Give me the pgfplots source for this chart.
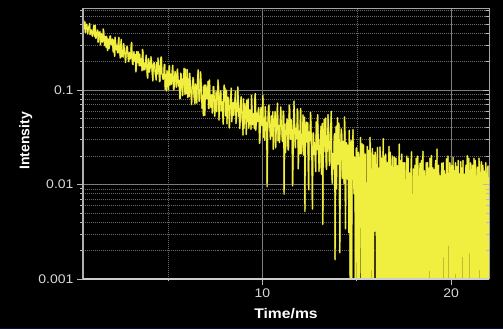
\documentclass[border=0pt]{standalone}
\usepackage{pgfplots}
\usepackage{pgfplotstable}
\pgfplotsset{compat=1.18}
\usepackage{fontspec}
\setmainfont{Liberation Sans}
\newfontfamily\sfx{Liberation Sans}[FakeStretch=1.12]
\definecolor{dyellow}{RGB}{240,238,62}
\definecolor{dolive}{RGB}{105,100,28}
\definecolor{gridc}{RGB}{105,105,105}
\definecolor{gridm}{RGB}{125,125,125}
\definecolor{axisc}{RGB}{185,185,185}
\definecolor{tickl}{RGB}{215,215,215}
\definecolor{navyb}{RGB}{12,16,48}

\pgfplotstableread{
x y
0.500 0.500
0.525 0.554
0.550 0.445
0.575 0.455
0.600 0.528
0.625 0.405
0.650 0.457
0.675 0.488
0.700 0.498
0.725 0.451
0.750 0.393
0.775 0.436
0.800 0.466
0.825 0.475
0.850 0.507
0.875 0.388
0.900 0.408
0.925 0.435
0.950 0.428
0.975 0.387
1.000 0.372
1.025 0.405
1.050 0.442
1.075 0.486
1.100 0.393
1.125 0.370
1.150 0.487
1.175 0.354
1.200 0.359
1.225 0.408
1.250 0.396
1.275 0.432
1.300 0.321
1.325 0.352
1.350 0.409
1.375 0.385
1.400 0.415
1.425 0.302
1.450 0.350
1.475 0.397
1.500 0.385
1.525 0.322
1.550 0.334
1.575 0.443
1.600 0.410
1.625 0.331
1.650 0.296
1.675 0.370
1.700 0.339
1.725 0.283
1.750 0.371
1.775 0.310
1.800 0.262
1.825 0.347
1.850 0.340
1.875 0.274
1.900 0.295
1.925 0.369
1.950 0.375
1.975 0.313
2.000 0.302
2.025 0.332
2.050 0.347
2.075 0.292
2.100 0.253
2.125 0.340
2.150 0.317
2.175 0.227
2.200 0.364
2.225 0.323
2.250 0.268
2.275 0.295
2.300 0.297
2.325 0.250
2.350 0.248
2.375 0.333
2.400 0.362
2.425 0.259
2.450 0.247
2.475 0.219
2.500 0.301
2.525 0.343
2.550 0.225
2.575 0.239
2.600 0.266
2.625 0.224
2.650 0.310
2.675 0.291
2.700 0.242
2.725 0.247
2.750 0.196
2.775 0.224
2.800 0.274
2.825 0.291
2.850 0.285
2.875 0.240
2.900 0.213
2.925 0.200
2.950 0.245
2.975 0.250
3.000 0.214
3.025 0.219
3.050 0.294
3.075 0.320
3.100 0.225
3.125 0.190
3.150 0.186
3.175 0.242
3.200 0.255
3.225 0.202
3.250 0.234
3.275 0.239
3.300 0.156
3.325 0.170
3.350 0.256
3.375 0.216
3.400 0.196
3.425 0.255
3.450 0.228
3.475 0.181
3.500 0.240
3.525 0.204
3.550 0.182
3.575 0.215
3.600 0.210
3.625 0.160
3.650 0.270
3.675 0.253
3.700 0.164
3.725 0.179
3.750 0.193
3.775 0.164
3.800 0.179
3.825 0.211
3.850 0.234
3.875 0.178
3.900 0.144
3.925 0.134
3.950 0.197
3.975 0.215
4.000 0.155
4.025 0.157
4.050 0.197
4.075 0.171
4.100 0.225
4.125 0.206
4.150 0.165
4.175 0.144
4.200 0.125
4.225 0.185
4.250 0.193
4.275 0.195
4.300 0.173
4.325 0.150
4.350 0.140
4.375 0.128
4.400 0.196
4.425 0.170
4.450 0.148
4.475 0.219
4.500 0.170
4.525 0.181
4.550 0.123
4.575 0.125
4.600 0.181
4.625 0.221
4.650 0.224
4.675 0.150
4.700 0.146
4.725 0.133
4.750 0.130
4.775 0.139
4.800 0.185
4.825 0.187
4.850 0.102
4.875 0.124
4.900 0.147
4.925 0.0980
4.950 0.160
4.975 0.146
5.000 0.133
5.025 0.101
5.050 0.172
5.075 0.181
5.100 0.113
5.125 0.129
5.150 0.148
5.175 0.115
5.200 0.120
5.225 0.157
5.250 0.183
5.275 0.139
5.300 0.100
5.325 0.105
5.350 0.136
5.375 0.157
5.400 0.150
5.425 0.116
5.450 0.107
5.475 0.140
5.500 0.167
5.525 0.142
5.550 0.114
5.575 0.109
5.600 0.127
5.625 0.0819
5.650 0.0815
5.675 0.151
5.700 0.145
5.725 0.121
5.750 0.103
5.775 0.0874
5.800 0.131
5.825 0.125
5.850 0.170
5.875 0.110
5.900 0.0899
5.925 0.167
5.950 0.110
5.975 0.0917
6.000 0.116
6.025 0.165
6.050 0.0833
6.075 0.100
6.100 0.131
6.125 0.0855
6.150 0.151
6.175 0.126
6.200 0.0955
6.225 0.0909
6.250 0.0702
6.275 0.100
6.300 0.113
6.325 0.136
6.350 0.129
6.375 0.0841
6.400 0.0854
6.425 0.0716
6.450 0.116
6.475 0.110
6.500 0.0861
6.525 0.0728
6.550 0.110
6.575 0.141
6.600 0.164
6.625 0.101
6.650 0.0760
6.675 0.0792
6.700 0.0947
6.725 0.156
6.750 0.126
6.775 0.107
6.800 0.0641
6.825 0.0821
6.850 0.0875
6.875 0.0537
6.900 0.109
6.925 0.113
6.950 0.0540
6.975 0.0890
7.000 0.113
7.025 0.104
7.050 0.0815
7.075 0.0810
7.100 0.100
7.125 0.124
7.150 0.0642
7.175 0.0638
7.200 0.128
7.225 0.0825
7.250 0.0709
7.275 0.0655
7.300 0.0892
7.325 0.0887
7.350 0.0571
7.375 0.0706
7.400 0.109
7.425 0.108
7.450 0.0822
7.475 0.0529
7.500 0.0632
7.525 0.0713
7.550 0.0963
7.575 0.0592
7.600 0.0759
7.625 0.0878
7.650 0.128
7.675 0.107
7.700 0.0483
7.725 0.0603
7.750 0.0835
7.775 0.0942
7.800 0.0984
7.825 0.0605
7.850 0.0649
7.875 0.0752
7.900 0.0524
7.925 0.0436
7.950 0.0906
7.975 0.113
8.000 0.0769
8.025 0.105
8.050 0.0534
8.075 0.0703
8.100 0.0997
8.125 0.0441
8.150 0.0626
8.175 0.0843
8.200 0.0818
8.225 0.0601
8.250 0.0398
8.275 0.0626
8.300 0.0670
8.325 0.0881
8.350 0.105
8.375 0.0463
8.400 0.0536
8.425 0.0722
8.450 0.0737
8.475 0.0541
8.500 0.0611
8.525 0.0744
8.550 0.0819
8.575 0.0974
8.600 0.0442
8.625 0.0499
8.650 0.0725
8.675 0.0590
8.700 0.108
8.725 0.0791
8.750 0.0525
8.775 0.0640
8.800 0.0393
8.825 0.0467
8.850 0.0752
8.875 0.0850
8.900 0.0623
8.925 0.0506
8.950 0.0455
8.975 0.0334
9.000 0.0806
9.025 0.0395
9.050 0.0506
9.075 0.0717
9.100 0.0630
9.125 0.0552
9.150 0.0339
9.175 0.0779
9.200 0.0684
9.225 0.0465
9.250 0.0807
9.275 0.0395
9.300 0.0435
9.325 0.0616
9.350 0.0555
9.375 0.0486
9.400 0.0385
9.425 0.0882
9.450 0.0633
9.475 0.0430
9.500 0.0439
9.525 0.0563
9.550 0.0546
9.575 0.0391
9.600 0.0832
9.625 0.0918
9.650 0.0376
9.675 0.0436
9.700 0.0572
9.725 0.0515
9.750 0.0463
9.775 0.0593
9.800 0.0653
9.825 0.0468
9.850 0.0273
9.875 0.0301
9.900 0.0563
9.925 0.0653
9.950 0.0467
9.975 0.0420
10.000 0.0602
10.025 0.0891
10.050 0.0316
10.075 0.0399
10.100 0.0504
10.125 0.0295
10.150 0.0668
10.175 0.0510
10.200 0.0369
10.225 0.0454
10.250 0.0095
10.275 0.0355
10.300 0.0524
10.325 0.0662
10.350 0.0695
10.375 0.0407
10.400 0.0394
10.425 0.0301
10.450 0.0434
10.475 0.0534
10.500 0.0326
10.525 0.0382
10.550 0.0592
10.575 0.0237
10.600 0.0398
10.625 0.0495
10.650 0.0506
10.675 0.0595
10.700 0.0245
10.725 0.0330
10.750 0.0458
10.775 0.0538
10.800 0.0725
10.825 0.0290
10.850 0.0341
10.875 0.0423
10.900 0.0278
10.925 0.0326
10.950 0.0491
10.975 0.0662
11.000 0.0427
11.025 0.0400
11.050 0.0295
11.075 0.0285
11.100 0.0600
11.125 0.0579
11.150 0.0079
11.175 0.0315
11.200 0.0437
11.225 0.0218
11.250 0.0361
11.275 0.0338
11.300 0.0496
11.325 0.0479
11.350 0.0240
11.375 0.0232
11.400 0.0432
11.425 0.0693
11.450 0.0614
11.475 0.0307
11.500 0.0301
11.525 0.0486
11.550 0.0363
11.575 0.0384
11.600 0.0097
11.625 0.0182
11.650 0.0460
11.675 0.0765
11.700 0.0519
11.725 0.0298
11.750 0.0245
11.775 0.0395
11.800 0.0304
11.825 0.0322
11.850 0.0632
11.875 0.0571
11.900 0.0147
11.925 0.0244
11.950 0.0370
11.975 0.0212
12.000 0.0410
12.025 0.0639
12.050 0.0211
12.075 0.0232
12.100 0.0339
12.125 0.0325
12.150 0.0544
12.175 0.0205
12.200 0.0252
12.225 0.0517
12.250 0.0052
12.275 0.0240
12.300 0.0416
12.325 0.0458
12.350 0.0292
12.375 0.0280
12.400 0.0453
12.425 0.0171
12.450 0.0088
12.475 0.0362
12.500 0.0340
12.525 0.0291
12.550 0.0584
12.575 0.0433
12.600 0.0215
12.625 0.0171
12.650 0.0055
12.675 0.0329
12.700 0.0353
12.725 0.0209
12.750 0.0280
12.775 0.0240
12.800 0.0185
12.825 0.0137
12.850 0.0461
12.875 0.0366
12.900 0.0235
12.925 0.0550
12.950 0.0363
12.975 0.0215
13.000 0.0138
13.025 0.0183
13.050 0.0300
13.075 0.0253
13.100 0.0413
13.125 0.0129
13.150 0.0195
13.175 0.0444
13.200 0.0038
13.225 0.0278
13.250 0.0370
13.275 0.0493
13.300 0.0264
13.325 0.0223
13.350 0.0506
13.375 0.0158
13.400 0.0145
13.425 0.0330
13.450 0.0225
13.475 0.0550
13.500 0.0385
13.525 0.0278
13.550 0.0159
13.575 0.0174
13.600 0.0301
13.625 0.0452
13.650 0.0595
13.675 0.0130
13.700 0.0103
13.725 0.0213
13.750 0.0202
13.775 0.0146
13.800 0.0317
13.825 0.0346
13.850 0.0016
13.875 0.0180
13.900 0.0411
13.925 0.0090
13.950 0.0246
13.975 0.0510
14.000 0.0164
14.025 0.0406
14.050 0.0447
14.075 0.0230
14.100 0.0019
14.125 0.0087
14.150 0.0265
14.175 0.0387
14.200 0.0338
14.225 0.0157
14.250 0.0116
14.275 0.0287
14.300 0.0201
14.325 0.0103
14.350 0.0520
14.375 0.0333
14.400 0.0034
14.425 0.0168
14.450 0.0278
14.475 0.0129
14.500 0.0114
14.525 0.0262
14.550 0.0226
14.575 0.0031
14.600 0.0375
14.625 0.0145
14.650 0.0005
14.675 0.0230
14.700 0.0293
14.725 0.0005
14.750 0.0154
14.775 0.0270
14.800 0.0380
14.825 0.0120
14.850 0.0080
14.875 0.0196
14.900 0.0189
14.925 0.0005
14.950 0.0005
14.975 0.0240
15.000 0.0245
15.025 0.0120
15.050 0.0005
15.075 0.0220
15.100 0.0193
15.125 0.0005
15.150 0.0105
15.175 0.0150
15.200 0.0315
15.225 0.0040
15.250 0.0005
15.275 0.0270
15.300 0.0158
15.325 0.0005
15.350 0.0263
15.375 0.0180
15.400 0.0005
15.425 0.0090
15.450 0.0210
15.475 0.0005
15.500 0.0063
15.525 0.0005
15.550 0.0253
15.575 0.0140
15.600 0.0005
15.625 0.0230
15.650 0.0158
15.675 0.0005
15.700 0.0316
15.725 0.0190
15.750 0.0005
15.775 0.0060
15.800 0.0111
15.825 0.0240
15.850 0.0005
15.875 0.0005
15.900 0.0205
15.925 0.0120
15.950 0.0032
15.975 0.0220
16.000 0.0160
16.025 0.0080
16.050 0.0005
16.075 0.0180
16.100 0.0247
16.125 0.0005
16.150 0.0073
16.175 0.0150
16.200 0.0005
16.225 0.0250
16.250 0.0203
16.275 0.0005
16.300 0.0131
16.325 0.0190
16.350 0.0005
16.375 0.0120
16.400 0.0305
16.425 0.0005
16.450 0.0044
16.475 0.0200
16.500 0.0005
16.525 0.0210
16.550 0.0160
16.575 0.0005
16.600 0.0106
16.625 0.0170
16.650 0.0005
16.675 0.0090
16.700 0.0253
16.725 0.0005
16.750 0.0005
16.775 0.0220
16.800 0.0133
16.825 0.0005
16.850 0.0053
16.875 0.0150
16.900 0.0200
16.925 0.0005
16.950 0.0005
16.975 0.0120
17.000 0.0195
17.025 0.0005
17.050 0.0073
17.075 0.0190
17.100 0.0005
17.125 0.0100
17.150 0.0159
17.175 0.0005
17.200 0.0005
17.225 0.0140
17.250 0.0268
17.275 0.0005
17.300 0.0024
17.325 0.0180
17.350 0.0005
17.375 0.0210
17.400 0.0122
17.425 0.0005
17.450 0.0171
17.475 0.0090
17.500 0.0005
17.525 0.0170
17.550 0.0100
17.575 0.0005
17.600 0.0005
17.625 0.0150
17.650 0.0200
17.675 0.0005
17.700 0.0056
17.725 0.0190
17.750 0.0005
17.775 0.0110
17.800 0.0133
17.825 0.0005
17.850 0.0005
17.875 0.0160
17.900 0.0222
17.925 0.0005
17.950 0.0078
17.975 0.0005
18.000 0.0146
18.025 0.0005
18.050 0.0005
18.075 0.0160
18.100 0.0034
18.125 0.0005
18.150 0.0190
18.175 0.0005
18.200 0.0005
18.225 0.0200
18.250 0.0112
18.275 0.0005
18.300 0.0005
18.325 0.0130
18.350 0.0168
18.375 0.0005
18.400 0.0067
18.425 0.0180
18.450 0.0005
18.475 0.0100
18.500 0.0225
18.525 0.0005
18.550 0.0005
18.575 0.0140
18.600 0.0118
18.625 0.0005
18.650 0.0005
18.675 0.0170
18.700 0.0086
18.725 0.0005
18.750 0.0171
18.775 0.0005
18.800 0.0005
18.825 0.0150
18.850 0.0043
18.875 0.0190
18.900 0.0005
18.925 0.0110
18.950 0.0203
18.975 0.0005
19.000 0.0062
19.025 0.0150
19.050 0.0005
19.075 0.0090
19.100 0.0144
19.125 0.0005
19.150 0.0103
19.175 0.0180
19.200 0.0005
19.225 0.0120
19.250 0.0237
19.275 0.0005
19.300 0.0005
19.325 0.0160
19.350 0.0093
19.375 0.0005
19.400 0.0124
19.425 0.0005
19.450 0.0005
19.475 0.0110
19.500 0.0168
19.525 0.0005
19.550 0.0005
19.575 0.0170
19.600 0.0030
19.625 0.0140
19.650 0.0005
19.675 0.0100
19.700 0.0129
19.725 0.0005
19.750 0.0188
19.775 0.0005
19.800 0.0005
19.825 0.0200
19.850 0.0069
19.875 0.0130
19.900 0.0005
19.925 0.0170
19.950 0.0149
19.975 0.0005
20.000 0.0005
20.025 0.0160
20.050 0.0107
20.075 0.0005
20.100 0.0194
20.125 0.0005
20.150 0.0005
20.175 0.0140
20.200 0.0078
20.225 0.0170
20.250 0.0005
20.275 0.0090
20.300 0.0155
20.325 0.0005
20.350 0.0039
20.375 0.0180
20.400 0.0005
20.425 0.0130
20.450 0.0116
20.475 0.0005
20.500 0.0175
20.525 0.0005
20.550 0.0005
20.575 0.0150
20.600 0.0092
20.625 0.0180
20.650 0.0005
20.675 0.0110
20.700 0.0129
20.725 0.0005
20.750 0.0055
20.775 0.0160
20.800 0.0005
20.825 0.0120
20.850 0.0202
20.875 0.0005
20.900 0.0005
20.925 0.0190
20.950 0.0083
20.975 0.0140
21.000 0.0005
21.025 0.0170
21.050 0.0135
21.075 0.0005
21.100 0.0005
21.125 0.0160
21.150 0.0072
21.175 0.0005
21.200 0.0189
21.225 0.0100
21.250 0.0005
21.275 0.0180
21.300 0.0108
21.325 0.0005
21.350 0.0005
21.375 0.0140
21.400 0.0153
21.425 0.0005
21.450 0.0027
21.475 0.0190
21.500 0.0113
21.525 0.0005
21.550 0.0005
21.575 0.0130
21.600 0.0174
21.625 0.0005
21.650 0.0005
21.675 0.0160
21.700 0.0078
21.725 0.0005
21.750 0.0139
21.775 0.0100
21.800 0.0005
21.825 0.0170
21.850 0.0096
21.875 0.0005
21.900 0.0005
21.925 0.0150
21.950 0.0157
21.975 0.0005
22.000 0.0120
}\decay

\begin{document}
\begin{tikzpicture}
\fill[black] (0,0) rectangle (503bp,329bp);
\fill[navyb] (0,0) rectangle (503bp,1.5bp);
\begin{axis}[
  at={(83bp,50bp)}, anchor=south west,
  scale only axis, width=406bp, height=271bp,
  ymode=log, xmin=0.5, xmax=22, ymin=0.001, ymax=0.74,
  xtick={10,20}, xticklabels={10,20}, minor xtick={5,15},
  ytick={0.001,0.01,0.1}, yticklabels={0.001,0.01,0.1},
  minor ytick={0.002,0.003,0.004,0.005,0.006,0.007,0.008,0.009,0.02,0.03,0.04,0.05,0.06,0.07,0.08,0.09,0.2,0.3,0.4,0.5,0.6,0.7},
  grid=both,
  major grid style={draw=gridm, line width=0.45pt},
  minor grid style={draw=gridc, line width=0.5pt, dash pattern=on 1pt off 1pt},
  axis line style={draw=none},
  tick pos=left, tick align=outside,
  major tick length=6bp, minor tick length=2.5bp,
  every tick/.style={draw=axisc, line width=0.8pt},
  ticklabel style={text=tickl, font=\sfx\fontsize{12.5bp}{14bp}\selectfont},
  xlabel={Time/ms}, ylabel={Intensity},
  xlabel style={at={(axis description cs:0.5,-0.129)}, anchor=center, text=white, font=\sfx\bfseries\fontsize{14bp}{16bp}\selectfont},
  ylabel style={at={(axis description cs:-0.141,0.51)}, anchor=center, text=white, font=\bfseries\fontsize{14bp}{16bp}\selectfont},
]
\addplot[draw=dolive, line width=1.7pt, line join=round, no markers] table[x=x,y=y] {\decay};
\addplot[draw=dyellow, line width=1.2pt, line join=round, no markers] table[x=x,y=y] {\decay};
\end{axis}
\begin{axis}[
  at={(83bp,50bp)}, anchor=south west,
  scale only axis, width=406bp, height=271bp,
  ymode=log, xmin=0.5, xmax=22, ymin=0.001, ymax=0.74,
  xtick=\empty,
  ytick={0.001,0.01,0.1}, yticklabels={},
  yticklabel style={overlay, opacity=0},
  minor ytick={0.002,0.003,0.004,0.005,0.006,0.007,0.008,0.009,0.02,0.03,0.04,0.05,0.06,0.07,0.08,0.09,0.2,0.3,0.4,0.5,0.6,0.7},
  ytick pos=right, tick align=inside,
  major tick length=6bp, minor tick length=3bp,
  every tick/.style={draw=axisc, line width=0.7pt},
  axis line style={draw=none},
  clip=false,
]
\draw[draw={rgb,255:red,165;green,165;blue,165}, line width=0.9pt] (rel axis cs:0,1) -- (rel axis cs:1,1) -- (rel axis cs:1,0);
\draw[draw={rgb,255:red,175;green,175;blue,175}, line width=1.2pt] (rel axis cs:0,0) -- (rel axis cs:0,1);
\draw[draw={rgb,255:red,205;green,205;blue,205}, line width=1.6pt] (rel axis cs:0,0) -- (rel axis cs:1,0);
\end{axis}
\end{tikzpicture}
\end{document}
